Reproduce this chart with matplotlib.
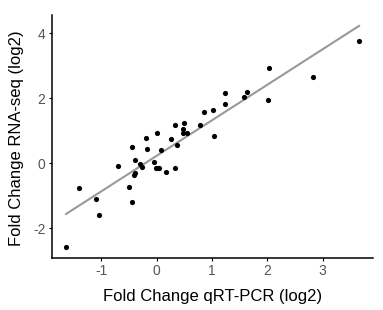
import numpy as np
import matplotlib.pyplot as plt

plt.rcParams["font.family"] = ["Liberation Sans", "DejaVu Sans"]
plt.rcParams["axes.unicode_minus"] = False

# qRT-PCR vs RNA-seq fold changes (log2)
qpcr = [-1.64, -1.40, -1.09, -1.04, -0.70, -0.51, -0.45, -0.44, -0.42, -0.40,
        -0.40, -0.30, -0.27, -0.20, -0.18, -0.05, 0.00, -0.01, 0.02, 0.04,
        0.07, 0.16, 0.25, 0.33, 0.33, 0.37, 0.47, 0.47, 0.49, 0.54,
        0.78, 0.86, 1.02, 1.04, 1.23, 1.23, 1.58, 1.64, 2.01, 2.03,
        2.83, 3.66]
rnaseq = [-2.58, -0.77, -1.09, -1.60, -0.09, -0.73, -1.18, 0.51, -0.37, -0.31,
          0.09, -0.02, -0.10, 0.78, 0.44, 0.05, 0.95, -0.13, -0.15, -0.13,
          0.40, -0.25, 0.75, -0.14, 1.18, 0.58, 1.06, 0.95, 1.23, 0.94,
          1.19, 1.58, 1.65, 0.84, 1.83, 2.17, 2.04, 2.21, 1.96, 2.93,
          2.65, 3.76]

x = np.array(qpcr)
y = np.array(rnaseq)
slope, intercept = np.polyfit(x, y, 1)
xl = np.array([x.min(), x.max()])

fig = plt.figure(figsize=(3.83, 3.10), dpi=100)
ax = fig.add_axes([0.135, 0.169, 0.84, 0.783])

ax.plot(xl, slope * xl + intercept, color="#999999", lw=1.5, zorder=1)
ax.scatter(x, y, s=14, color="black", zorder=2, linewidths=0)

ax.set_xlim(-1.9, 3.92)
ax.set_ylim(-2.9, 4.57)
ax.set_xticks([-1, 0, 1, 2, 3])
ax.set_yticks([-2, 0, 2, 4])

for s in ["top", "right"]:
    ax.spines[s].set_visible(False)
for s in ["left", "bottom"]:
    ax.spines[s].set_linewidth(1.1)
ax.tick_params(length=2.5, width=0.8, labelsize=10, labelcolor="#555555", pad=2)

ax.set_xlabel("Fold Change qRT-PCR (log2)", fontsize=12, labelpad=8)
ax.set_ylabel("Fold Change RNA-seq (log2)", fontsize=12)
ax.yaxis.set_label_coords(-0.085, 0.49)

fig.savefig("out.png", dpi=100)
